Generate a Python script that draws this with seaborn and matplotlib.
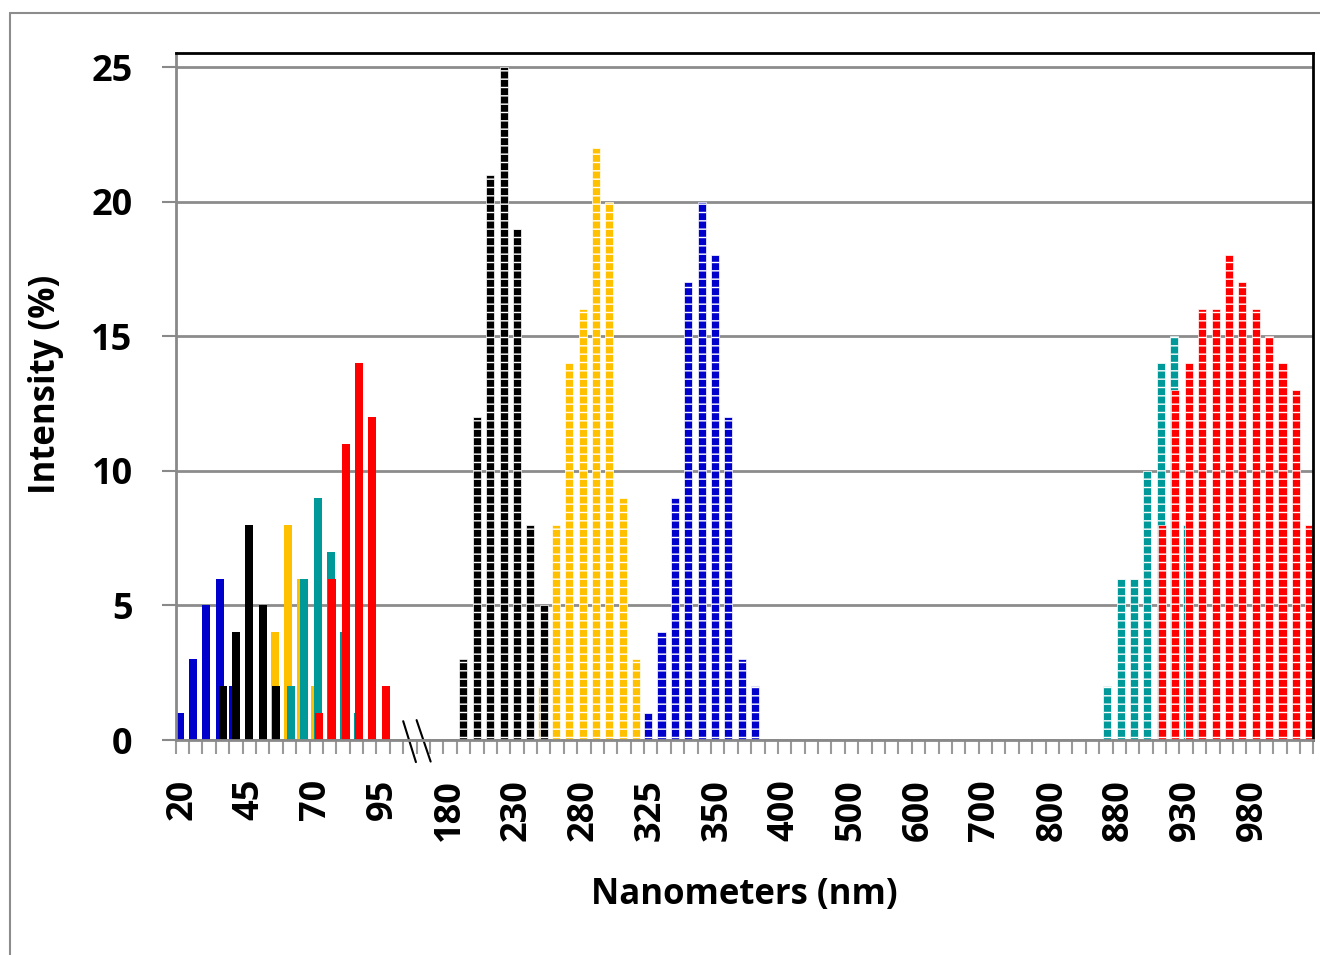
import numpy as np
import matplotlib
matplotlib.use("Agg")
import matplotlib.pyplot as plt
from matplotlib.lines import Line2D
import seaborn as sns

# ---------------- data ----------------
n_categories = 85
tick_labels = ["20", "45", "70", "95", "180", "230", "280", "325", "350",
               "400", "500", "600", "700", "800", "880", "930", "980"]

# (first category index, values) for each run of non-empty bars
blue_runs = [(0, [1, 3, 5, 6, 2]), (35, [1, 4, 9, 17, 20, 18, 12, 3, 2])]
gold_runs = [(7, [4, 8, 6, 2]), (27, [2, 8, 14, 16, 22, 20, 9, 3])]
black_runs = [(3, [2, 4, 8, 5, 2]), (21, [3, 12, 21, 25, 19, 8, 5])]
teal_runs = [(8, [2, 6, 9, 7, 4, 1]), (69, [2, 6, 6, 10, 14, 15, 8, 3])]
red_runs = [(10, [1, 6, 11, 14, 12, 2]),
            (73, [8, 13, 14, 16, 16, 18, 17, 16, 15, 14, 13, 8])]

series_names = ["blue", "gold", "black", "teal", "red"]
series_colors = ["#0000CC", "#FFC000", "#000000", "#009999", "#FF0000"]
series_runs = [blue_runs, gold_runs, black_runs, teal_runs, red_runs]
series_offsets = [-0.2, -0.1, 0.0, 0.1, 0.2]


def expand(runs):
    vals = np.zeros(n_categories)
    for start, v in runs:
        vals[start:start + len(v)] = v
    return vals


# ---------------- style ----------------
sns.set_theme(style="white")
plt.rcParams["font.family"] = ["Open Sans", "DejaVu Sans"]
plt.rcParams["font.weight"] = "bold"
plt.rcParams["axes.labelweight"] = "bold"
plt.rcParams["hatch.linewidth"] = 1.0
for k in ["text.color", "axes.labelcolor", "xtick.labelcolor", "ytick.labelcolor"]:
    plt.rcParams[k] = "black"

fig = plt.figure(figsize=(13.2, 9.55), dpi=100)
ax = fig.add_axes([0.1331, 0.2251, 0.8618, 0.7194])

idx = np.arange(n_categories)
for name, color, off, runs in zip(series_names, series_colors,
                                  series_offsets, series_runs):
    vals = expand(runs)
    n0 = len(ax.patches)
    sns.barplot(x=idx + off, y=vals, native_scale=True, width=0.6,
                color=color, saturation=1, errorbar=None, ax=ax,
                linewidth=0)
    for p in ax.patches[n0:]:
        cx = p.get_x() + p.get_width() / 2
        if cx > 15.5:
            p.set_hatch("--")
            p.set_edgecolor("white")
            p.set_linewidth(0.5)

ax.set_xlim(-0.5, n_categories - 0.5)
ax.set_ylim(0, 25.52)
ax.set_axisbelow(True)
ax.yaxis.grid(True, color="#8c8c8c", linewidth=2)
ax.xaxis.grid(False)

ax.set_yticks([0, 5, 10, 15, 20, 25])
ax.set_yticklabels(["0", "5", "10", "15", "20", "25"])
ax.set_xticks(np.arange(0, n_categories, 5))
ax.set_xticklabels(tick_labels, rotation=90)
ax.set_xticks(np.arange(-0.5, n_categories, 1), minor=True)

ax.tick_params(axis="y", left=True, direction="out", length=10, width=1.5,
               color="#898989", pad=21, labelsize=26, labelcolor="black")
ax.tick_params(axis="x", which="major", bottom=True, length=0, pad=28,
               labelsize=26, labelcolor="black")
ax.tick_params(axis="x", which="minor", bottom=True, direction="out",
               length=10, width=1.5, color="#9a9a9a")

for s in ["left", "bottom"]:
    ax.spines[s].set_color("#898989")
    ax.spines[s].set_linewidth(2)
for s in ["top", "right"]:
    ax.spines[s].set_color("black")
    ax.spines[s].set_linewidth(2)

ax.set_ylabel("Intensity (%)", fontsize=25, fontweight="bold", color="black")
ax.yaxis.set_label_coords(-0.098, 0.517)
ax.set_xlabel("Nanometers (nm)", fontsize=25, fontweight="bold", color="black")
ax.xaxis.set_label_coords(0.5, -0.2)

# axis break marks
ax.plot([16.5, 17.45], [0.7, -0.82], color="black", lw=1.5, clip_on=False)
ax.plot([17.5, 18.55], [0.74, -0.8], color="black", lw=1.5, clip_on=False)

# chart-area frame (left and top edges visible)
fig.add_artist(Line2D([10 / 1320, 10 / 1320], [0, 1 - 13 / 955],
                      transform=fig.transFigure, color="#8c8c8c", lw=1.5))
fig.add_artist(Line2D([10 / 1320, 1], [1 - 13 / 955, 1 - 13 / 955],
                      transform=fig.transFigure, color="#8c8c8c", lw=1.5))

fig.savefig("out.png", dpi=100)
